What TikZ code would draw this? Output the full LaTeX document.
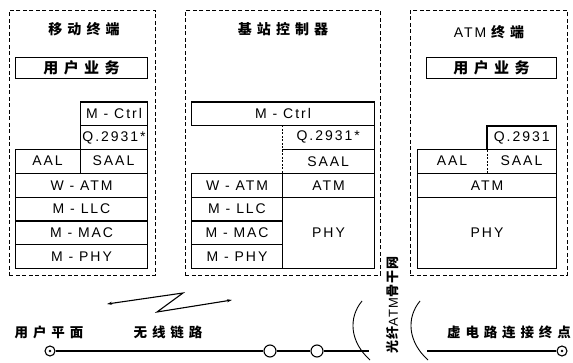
\documentclass[tikz,border=0pt]{standalone}
\usepackage{fontspec}
\setmainfont{Liberation Sans}
\newfontfamily\lat[LetterSpace=14]{Liberation Sans}
\newfontfamily\cjk[LetterSpace=36]{Noto Sans CJK SC}
\newfontfamily\cjkv[LetterSpace=8]{Noto Sans CJK SC}
\newfontfamily\latv[LetterSpace=8]{Liberation Sans}
\usetikzlibrary{arrows.meta}
\tikzset{
  frame/.style={draw, line width=0.9pt, dash pattern=on 4pt off 2.5pt, inner sep=0pt, anchor=north west},
  lay/.style={draw, line width=1.1pt, inner sep=0pt, anchor=north west, minimum height=23.8pt,
              font={\fontsize{14}{15}\selectfont\lat}},
  plain/.style={inner sep=0pt, anchor=north west, minimum height=23.8pt,
              font={\fontsize{14}{15}\selectfont\lat}},
  txt/.style={inner sep=0pt, font={\fontsize{14}{15}\selectfont\lat}},
  title/.style={inner sep=0pt, font={\fontsize{14}{15}\selectfont\cjk\bfseries}},
  ubox/.style={draw, line width=1.1pt, inner sep=0pt, anchor=north west, minimum height=21pt,
              font={\fontsize{15}{16}\selectfont\cjk\bfseries}},
  lab/.style={inner sep=0pt, font={\fontsize{13.5}{15}\selectfont\cjk\bfseries}},
  thin/.style={line width=0.6pt},
  dsh/.style={line width=0.6pt, dash pattern=on 2pt off 1.5pt},
  thick/.style={line width=1.1pt},
  mainline/.style={line width=1.3pt},
  openc/.style={circle, draw, line width=1.1pt, fill=white, minimum size=12pt, inner sep=0pt},
  dotc/.style={circle, draw, line width=1.1pt, fill=white, minimum size=10pt, inner sep=0pt},
}
\begin{document}
\begin{tikzpicture}[x=1pt,y=-1pt]
\useasboundingbox (0,0) rectangle (573,363);
% frames
\node[frame, minimum width=146pt, minimum height=265pt] (f1) at (9,10) {};
\node[frame, minimum width=195pt, minimum height=265pt] (f2) at (185,10) {};
\node[frame, minimum width=157pt, minimum height=265pt] (f3) at (410,10) {};
% titles
\node[title] (t1) at (84,29) {移动终端};
\node[title] (t2) at (283,29) {基站控制器};
\node[inner sep=0pt] (t3) at (489,32) {{\fontsize{14}{15}\selectfont\lat ATM}\hspace{5pt}{\fontsize{14}{15}\selectfont\cjk\bfseries 终端}};
% ---- box 1
\node[ubox, minimum width=132pt] (u1) at (15,57) {用户业务};
\node[lay, minimum width=67pt] (mc1) at (80,101.5) {M - Ctrl};
\node[lay, minimum width=67pt] (q1) at (80,125.3) {Q.2931*};
\node[lay, minimum width=132pt] (ar1) at (15,149.1) {};
\draw[thin] (q1.south west) -- (ar1.south -| q1.south west);
\node[txt] (aal1) at (47.5,161) {AAL};
\node[txt] (saal1) at (113.5,161) {SAAL};
\node[lay, minimum width=132pt] (wa1) at (15,172.9) {W - ATM};
\node[lay, minimum width=132pt] (ml1) at (15,196.7) {M - LLC};
\node[lay, minimum width=132pt] (mm1) at (15,220.5) {M - MAC};
\node[lay, minimum width=132pt] (mp1) at (15,244.3) {M - PHY};
% ---- box 2
\node[lay, minimum width=183pt] (mc2) at (191,101.5) {M - Ctrl};
\node[plain, minimum width=92pt] (q2) at (282,125.3) {Q.2931*};
\node[plain, minimum width=92pt] (s2) at (282,149.1) {SAAL};
\draw[thick] (s2.north west) -- (s2.north east);
\draw[dsh] (q2.north west) -- (s2.south west);
\draw[thin] (q2.north east) -- (s2.south east);
\node[lay, minimum width=91pt] (wa2) at (191,172.9) {W - ATM};
\node[lay, minimum width=92pt] (at2) at (282,172.9) {ATM};
\node[lay, minimum width=91pt] (ml2) at (191,196.7) {M - LLC};
\node[lay, minimum width=91pt] (mm2) at (191,220.5) {M - MAC};
\node[lay, minimum width=91pt] (mp2) at (191,244.3) {M - PHY};
\node[lay, minimum width=92pt, minimum height=71.4pt] (ph2) at (282,196.7) {PHY};
% ---- box 3
\node[ubox, minimum width=130pt] (u3) at (426,57) {用户业务};
\node[plain, minimum width=69pt] (q3) at (487,126) {Q.2931};
\draw[thick] (q3.south west) -- (q3.north west) -- (q3.north east) -- (q3.south east);
\node[lay, minimum width=139pt] (ar3) at (417,149.1) {};
\draw[dsh] (q3.north west) -- (ar3.south -| q3.north west);
\node[txt] (aal3) at (452,161) {AAL};
\node[txt] (saal3) at (521.5,161) {SAAL};
\node[lay, minimum width=139pt] (at3) at (417,172.9) {ATM};
\node[lay, minimum width=139pt, minimum height=71.4pt] (ph3) at (417,196.7) {PHY};
% ---- bottom
\draw[line width=1.1pt, {Stealth[length=5pt,width=3pt]}-{Stealth[length=5pt,width=3pt]}]
  (107,304) coordinate (z1) -- (183,293) coordinate (z2) -- (157,312) coordinate (z3) -- (232,300) coordinate (z4);
\node[lab] (l1) at (49,332) {用户平面};
\node[lab] (l2) at (168,332) {无线链路};
\node[lab] (l3) at (509,332) {虚电路连接终点};
\node[inner sep=0pt, rotate=90] (v) at (393,305)
  {{\fontsize{13}{14}\selectfont\cjkv\bfseries 光纤}{\fontsize{13}{14}\selectfont\latv ATM}{\fontsize{13}{14}\selectfont\cjkv\bfseries 骨干网}};
\node[dotc] (p0) at (50,351) {};
\fill (p0.center) circle (1.4);
\node[openc] (c1) at (270,351) {};
\node[openc] (c2) at (317,351) {};
\coordinate (b1) at (369,351);
\coordinate (b2) at (427,351);
\node[dotc] (p1) at (562,351) {};
\fill (p1.center) circle (1.4);
\draw[mainline] (p0) -- (c1);
\draw[mainline] (c1) -- (c2);
\draw[mainline] (c2) -- (b1);
\draw[mainline] (b2) -- (p1);
\draw[line width=0.9pt] (362,301) .. controls (348,318) and (350,342) .. (370,360);
\draw[line width=0.9pt] (420,301) .. controls (406,318) and (408,342) .. (428,360);
\end{tikzpicture}
\end{document}
